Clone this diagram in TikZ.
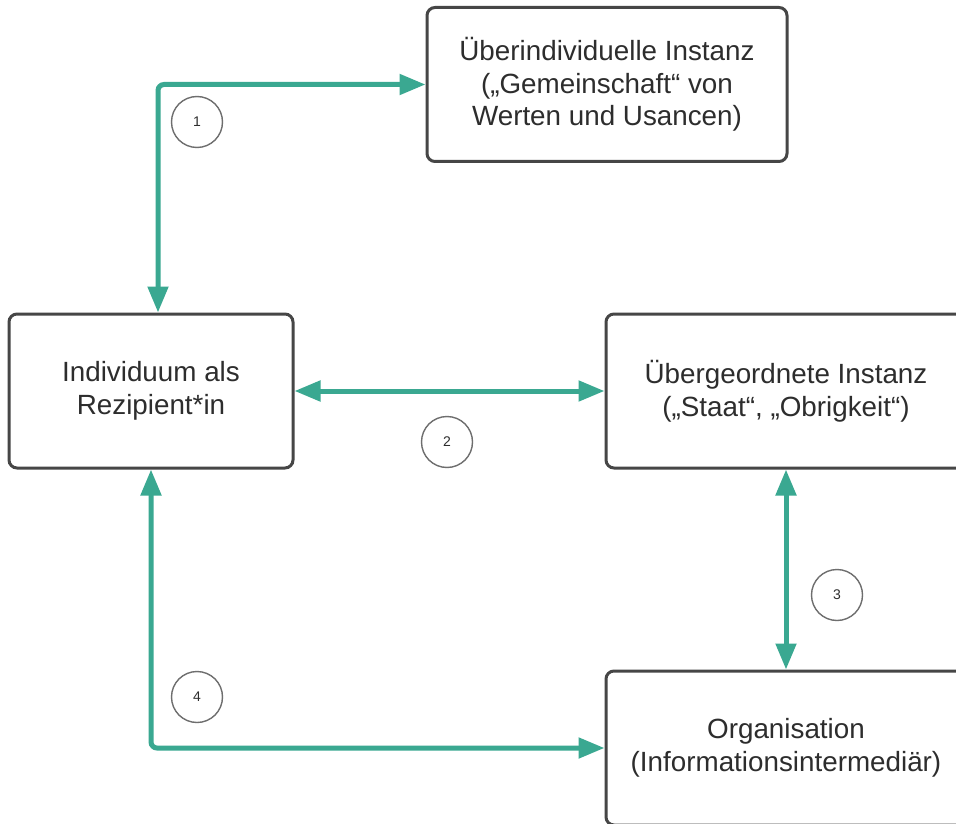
\documentclass[tikz,border=0pt]{standalone}
\usepackage{fontspec}
\setmainfont{Liberation Sans}
\usetikzlibrary{arrows.meta,calc}
\definecolor{teal1}{RGB}{58,168,145}
\definecolor{boxline}{RGB}{70,70,70}
\definecolor{txt}{RGB}{45,45,45}
\definecolor{circ}{RGB}{110,110,110}
\tikzset{
  box/.style={draw=boxline, line width=3pt, rounded corners=8pt, fill=white,
    minimum width=#1, minimum height=154pt, align=center, text=txt,
    font=\fontsize{27.8}{32.5}\selectfont, inner sep=0pt},
  conn/.style={draw=teal1, line width=5pt, rounded corners=6pt,
    {Triangle[length=26pt,width=20pt]}-{Triangle[length=26pt,width=20pt]}},
  num/.style={draw=circ, line width=1.4pt, circle, minimum size=51pt, inner sep=0pt,
    text=txt, font=\fontsize{14}{16}\selectfont}
}
\begin{document}
\begin{tikzpicture}[x=1pt,y=-1pt]
\path[use as bounding box, clip] (0,0) rectangle (956,824);
\fill[white] (0,0) rectangle (956,824);
\node[box=360pt] (top) at (607,84.5) {Überindividuelle Instanz\\(„Gemeinschaft“ von\\Werten und Usancen)};
\node[box=284pt] (left) at (151,391) {Individuum als\\Rezipient*in};
\node[box=360pt] (right) at (786,391) {Übergeordnete Instanz\\(„Staat“, „Obrigkeit“)};
\node[box=360pt] (org) at (786,748) {Organisation\\(Informationsintermediär)};
\draw[conn] ([xshift=7pt]left.north) |- (top.west);
\draw[conn] (left.east) -- (right.west);
\draw[conn] (right.south) -- (org.north);
\draw[conn] (left.south) |- (org.west);
\node[num] (n1) at (197,122) {1};
\node[num] (n2) at (447,442) {2};
\node[num] (n3) at (837,595) {3};
\node[num] (n4) at (197,697) {4};
\end{tikzpicture}
\end{document}
